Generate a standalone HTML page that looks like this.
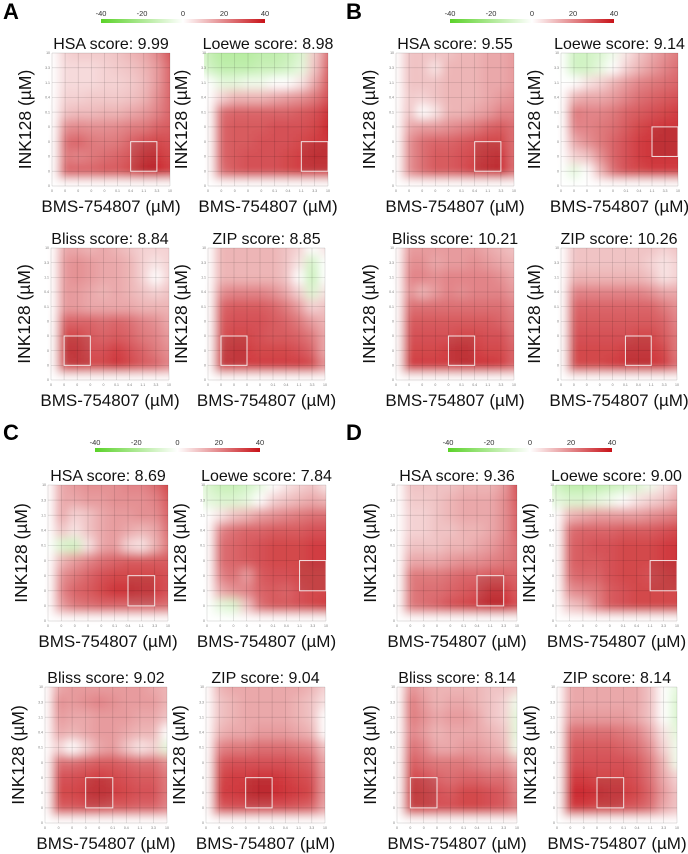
<!DOCTYPE html>
<html><head><meta charset="utf-8">
<style>
html,body{margin:0;padding:0;background:#fff;}
svg{display:block;font-family:"Liberation Sans",Arial,sans-serif;}
</style></head>
<body>
<svg id="fig" width="688" height="854" viewBox="0 0 688 854" xmlns="http://www.w3.org/2000/svg">
<defs>
<filter id="blur" x="-20%" y="-20%" width="140%" height="140%"><feGaussianBlur stdDeviation="5"/></filter>
<linearGradient id="cbar" x1="0" x2="1" y1="0" y2="0">
<stop offset="0" stop-color="rgb(90,210,40)"/><stop offset="0.5" stop-color="#fff"/><stop offset="1" stop-color="rgb(200,18,24)"/>
</linearGradient>
</defs>
</svg>
<script>
// x-axis tick labels (BMS-754807, µM) and y-axis tick labels (INK128, µM, top to bottom)
const xTickLabels = ["0","0","0","0","0","0.1","0.4","1.1","3.3","10"];
const yTickLabels = ["10","3.3","1.1","0.4","0.1","0","0","0","0","0"];
const colorbarTicks = [-40,-20,0,20,40];
const scoreLabels = ["HSA","Loewe","Bliss","ZIP"];
const scoresA = [9.99, 8.98, 8.84, 8.85];
const scoresB = [9.55, 9.14, 10.21, 10.26];
const scoresC = [8.69, 7.84, 9.02, 9.04];
const scoresD = [9.36, 9.00, 8.14, 8.14];
const Z = [0,0,0,0,0,0,0,0,0,0];
const A_HSA = [[0,4,5,5,5,6,8,10,15,25],[0,3,3,3,4,5,6,8,12,22],[0,3,3,3,4,4,5,7,12,22],[0,4,4,5,5,5,6,8,14,22],[0,6,7,7,8,8,10,12,16,22],[0,14,15,14,14,15,17,18,22,24],[0,20,22,18,17,18,22,26,28,26],[0,18,16,18,20,22,25,30,32,28],[0,22,22,22,24,24,28,34,36,30],Z];
const A_LOEWE = [[-10,-14,-14,-14,-12,-12,-10,-6,5,20],[-8,-12,-12,-12,-10,-10,-8,-4,6,22],[0,-4,-4,-2,-2,0,0,2,10,24],[0,4,8,8,8,10,12,14,18,26],[0,20,22,22,22,22,22,24,26,32],[0,22,24,24,24,26,26,26,28,34],[0,22,24,24,26,26,26,28,30,32],[0,22,24,26,26,26,28,30,32,32],[0,20,24,26,26,26,28,30,30,30],Z];
const A_BLISS = [[0,10,10,8,10,8,6,4,4,4],[0,12,14,12,10,10,8,4,2,4],[0,12,14,12,10,10,8,4,0,4],[0,12,12,10,8,10,8,6,4,6],[0,12,12,10,10,10,10,8,8,8],[0,22,22,22,20,22,20,16,14,10],[0,28,28,24,22,24,22,18,16,12],[0,30,30,26,26,30,26,22,18,14],[0,28,30,28,28,32,28,24,22,16],Z];
const A_ZIP = [[0,8,8,8,8,8,6,4,0,2],[0,8,8,8,8,8,6,2,-8,0],[0,8,8,8,8,8,6,0,-10,0],[0,14,16,16,16,14,10,4,-6,2],[0,22,24,24,24,22,18,12,4,6],[0,24,26,26,26,24,22,18,12,8],[0,26,28,28,26,24,24,22,18,10],[0,28,30,30,28,28,28,26,22,10],[0,30,30,30,30,30,30,30,28,14],Z];
const B_HSA = [[0,6,6,6,6,8,8,10,10,12],[0,6,6,2,8,8,8,10,10,12],[0,6,6,6,8,8,8,10,10,12],[0,5,4,6,8,8,8,10,12,14],[0,6,0,2,8,8,10,12,16,16],[0,10,12,12,14,16,18,22,24,20],[0,14,20,22,22,24,26,28,28,20],[0,14,20,24,24,26,28,30,32,20],[0,14,20,24,24,26,30,32,34,20],Z];
const B_LOEWE = [[0,-8,-8,-6,-2,2,6,10,14,18],[0,-8,-8,-4,0,4,8,12,16,20],[0,0,2,4,8,12,16,18,20,22],[0,8,10,10,12,16,20,22,24,26],[0,18,16,16,18,22,24,26,28,30],[0,16,16,18,20,24,28,30,32,32],[0,10,14,18,22,26,30,32,32,32],[0,4,6,14,22,26,30,32,32,32],[0,-4,0,8,20,26,28,30,30,30],Z];
const B_BLISS = [[0,12,12,12,12,12,12,10,8,6],[0,14,14,10,12,12,14,12,10,8],[0,16,16,14,16,16,16,16,14,10],[0,14,8,12,16,14,16,16,16,12],[0,20,20,20,20,20,20,20,20,16],[0,24,24,24,24,24,24,24,22,18],[0,26,26,26,26,28,28,26,26,20],[0,28,28,28,30,32,30,28,28,22],[0,30,30,30,30,32,32,32,30,22],Z];
const B_ZIP = [[0,6,6,6,6,6,6,6,4,6],[0,6,6,6,6,6,6,4,2,4],[0,8,8,8,8,8,8,6,2,4],[0,16,16,16,16,16,16,14,10,10],[0,22,22,22,22,22,22,22,18,14],[0,24,24,24,24,24,24,24,22,16],[0,26,26,26,26,26,28,28,24,18],[0,28,28,28,28,30,30,30,28,18],[0,28,28,28,30,32,32,32,30,20],Z];
const C_HSA = [[0,10,12,14,14,14,16,16,20,28],[0,10,10,12,12,14,14,14,16,24],[0,10,4,6,10,12,12,14,14,22],[0,6,2,6,10,12,10,8,10,20],[0,-6,-8,2,10,12,4,2,8,18],[0,8,12,16,20,22,24,24,24,24],[0,14,18,22,26,28,28,28,28,26],[0,16,22,24,28,32,32,30,30,26],[0,12,18,20,22,22,22,22,22,20],Z];
const C_LOEWE = [[-6,-10,-10,-8,-4,0,2,4,6,2],[-4,-6,-6,-4,0,4,6,8,10,8],[0,2,6,8,12,14,16,18,20,20],[0,16,20,22,22,24,24,24,26,26],[0,20,22,24,26,28,28,28,30,30],[0,20,22,24,26,28,28,28,30,30],[0,16,20,12,24,26,26,28,28,28],[0,10,14,16,22,24,22,26,28,28],[0,-4,-6,6,20,24,24,26,28,30],Z];
const C_BLISS = [[0,10,12,12,12,12,12,12,10,8],[0,14,12,14,16,14,12,12,12,8],[0,12,10,10,12,12,12,10,10,6],[0,10,8,10,12,12,10,8,8,0],[0,4,0,4,10,12,6,2,4,-4],[0,20,20,22,24,24,22,20,20,14],[0,26,26,28,30,28,26,24,24,18],[0,28,28,30,32,30,28,26,26,18],[0,24,24,26,26,24,24,22,22,16],Z];
const C_ZIP = [[0,8,10,10,10,10,10,10,8,4],[0,6,8,10,10,10,10,8,6,2],[0,6,8,10,10,10,10,8,6,0],[0,8,10,10,12,12,12,10,8,0],[0,16,18,18,20,20,20,18,16,6],[0,24,26,26,26,26,26,24,22,10],[0,28,30,30,32,32,30,28,26,12],[0,30,30,32,34,34,32,30,28,12],[0,24,26,26,26,26,26,24,22,10],Z];
const D_HSA = [[0,6,6,6,6,8,8,8,12,26],[0,5,5,6,8,10,10,10,14,24],[0,4,4,6,8,10,10,10,14,22],[0,4,4,6,6,8,8,10,14,22],[0,6,6,6,8,8,10,12,16,20],[0,10,10,10,12,14,14,16,18,20],[0,18,18,18,20,22,22,24,24,22],[0,18,20,20,22,24,26,30,30,24],[0,18,20,22,26,28,30,34,34,26],Z];
const D_LOEWE = [[-8,-12,-12,-12,-10,-8,-6,-2,2,6],[-4,-6,-6,-4,-2,0,2,4,6,10],[0,8,10,12,12,12,12,14,16,18],[0,20,22,22,22,24,24,24,26,28],[0,22,24,26,26,28,28,28,30,32],[0,22,24,24,26,28,28,28,30,32],[0,20,22,22,26,28,28,26,28,30],[0,14,16,18,24,26,28,28,28,28],[0,6,8,16,24,26,28,28,28,28],Z];
const D_BLISS = [[0,14,10,8,8,8,8,6,6,4],[0,18,12,8,10,10,8,6,4,-2],[0,18,14,10,12,12,10,6,4,-4],[0,16,12,8,10,10,10,8,6,-4],[0,20,16,10,10,12,12,10,8,-2],[0,24,20,18,18,18,16,14,14,8],[0,28,26,22,20,22,22,20,20,14],[0,30,28,26,24,28,28,26,24,16],[0,28,28,26,26,28,28,26,24,18],Z];
const D_ZIP = [[0,10,10,10,10,10,10,6,0,-4],[0,10,10,10,10,10,10,6,0,-6],[0,12,12,12,12,12,10,6,0,-6],[0,20,20,20,20,18,16,10,2,-4],[0,24,24,24,24,22,20,14,4,-2],[0,26,26,26,26,26,24,18,8,-2],[0,30,30,28,28,28,26,20,10,4],[0,34,34,32,30,30,28,22,12,6],[0,30,30,28,28,26,24,20,10,6],Z];

const svg = document.getElementById('fig');
const NS = 'http://www.w3.org/2000/svg';
function mk(tag, attrs, parent){const e=document.createElementNS(NS,tag);for(const k in attrs)e.setAttribute(k,attrs[k]);(parent||svg).appendChild(e);return e;}
function color(v){
  if(v>=0){const t=Math.pow(Math.min(v/40,1),0.72);return `rgb(${Math.round(255-57*t)},${Math.round(255-237*t)},${Math.round(255-231*t)})`;}
  const t=Math.pow(Math.min(-v/40,1),0.8);return `rgb(${Math.round(255-165*t)},${Math.round(255-45*t)},${Math.round(255-215*t)})`;
}
const panels = [
 {letter:'A',lx:3,ly:19,cb:[101,265,19],scores:scoresA,mats:[A_HSA,A_LOEWE,A_BLISS,A_ZIP],
  plots:[[52,170,53,186,6,6],[208,328,53,186,7,6],[51,169,248,380,1,6],[208,325,248,380,1,6]]},
 {letter:'B',lx:346,ly:19,cb:[450,614,19],scores:scoresB,mats:[B_HSA,B_LOEWE,B_BLISS,B_ZIP],
  plots:[[396,514,53,186,6,6],[561,678,53,186,7,5],[396,514,248,380,4,6],[561,677,248,380,5,6]]},
 {letter:'C',lx:3,ly:440,cb:[95,260,448],scores:scoresC,mats:[C_HSA,C_LOEWE,C_BLISS,C_ZIP],
  plots:[[48,168,485,621,6,6],[207,326,485,621,7,5],[45,167,687,823,3,6],[206,325,687,823,3,6]]},
 {letter:'D',lx:346,ly:440,cb:[448,612,448],scores:scoresD,mats:[D_HSA,D_LOEWE,D_BLISS,D_ZIP],
  plots:[[397,517,485,621,6,6],[556,677,485,621,7,5],[397,517,687,823,1,6],[557,677,687,823,3,6]]}
];
let clipId=0;
panels.forEach(p=>{
  const g=mk('g',{});
  
  
  const L=mk('text',{x:p.lx,y:p.ly,'font-size':22,'font-weight':'bold',fill:'#000'},g);
  L.textContent=p.letter;
  
  
  const [cx0,cx1,cy]=p.cb;
  const cb=mk('rect',{x:cx0,y:cy,width:cx1-cx0,height:4,fill:'url(#cbar)'},g);
  
  
  colorbarTicks.forEach(v=>{
    const t=mk('text',{x:cx0+(v+40)/80*(cx1-cx0),y:cy-3,'font-size':7.5,'text-anchor':'middle',fill:'#333'},g);
    t.textContent=v;
    
    
  });
  p.plots.forEach((pl,i)=>{
    const [x0,x1,y0,y1,bx,by]=pl;
    const m=p.mats[i];
    const sx=(x1-x0)/9, sy=(y1-y0)/9;
    const xs=c=>x0+c*sx, ys=r=>y0+r*sy;
    const pg=mk('g',{},g);
    
    
    const id='clip'+(clipId++);
    const cp=mk('clipPath',{id:id},pg);
    mk('rect',{x:x0-4,y:y0,width:x1-x0+4,height:y1-y0+4},cp);
    const outer=mk('g',{'clip-path':`url(#${id})`},pg);
    const bg=mk('g',{filter:'url(#blur)'},outer);
    for(let r=0;r<10;r++)for(let c=0;c<10;c++){
      let rx=xs(c)-sx/2, ry=ys(r)-sy/2, w=sx+0.6, h=sy+0.6;
      if(r===0){ry-=sy*1.5;h+=sy*1.5;}
      if(c===9){w+=sx*1.5;}
      const cell=mk('rect',{x:rx,y:ry,width:w,height:h,fill:color(m[r][c])},bg);
      
      
    }
    for(let k=0;k<10;k++){
      mk('line',{x1:xs(k),x2:xs(k),y1:y0,y2:y1,stroke:'rgba(0,0,0,0.15)','stroke-width':0.7},pg);
      mk('line',{x1:x0,x2:x1,y1:ys(k),y2:ys(k),stroke:'rgba(0,0,0,0.15)','stroke-width':0.7},pg);
      const tx=mk('text',{x:xs(k),y:y1+6,'font-size':3.5,'text-anchor':'middle',fill:'#777'},pg);
      tx.textContent=xTickLabels[k];
      
      
      const ty=mk('text',{x:x0-2,y:ys(k)+1.2,'font-size':3.5,'text-anchor':'end',fill:'#777'},pg);
      ty.textContent=yTickLabels[k];
      
      
    }
    const box=mk('rect',{x:xs(bx),y:ys(by),width:2*sx,height:2*sy,fill:'rgba(0,0,0,0.07)',stroke:'rgba(255,255,255,0.85)','stroke-width':1},pg);
    
    
    const cxm=(x0+x1)/2;
    const title=mk('text',{x:cxm,y:y0-4,'font-size':16,'text-anchor':'middle',fill:'#111'},pg);
    title.textContent=scoreLabels[i]+' score: '+p.scores[i].toFixed(2);
    
    
    const xl=mk('text',{x:cxm,y:y1+26,'font-size':17,'text-anchor':'middle',fill:'#111'},pg);
    xl.textContent='BMS-754807 (\u00b5M)';
    
    
    const ycy=(y0+y1)/2, ycx=x0-21;
    const yl=mk('text',{x:ycx,y:ycy,'font-size':17.5,'text-anchor':'middle',fill:'#111',transform:`rotate(-90 ${ycx} ${ycy})`},pg);
    yl.textContent='INK128 (\u00b5M)';
    
    
  });
});
</script>
</body></html>
